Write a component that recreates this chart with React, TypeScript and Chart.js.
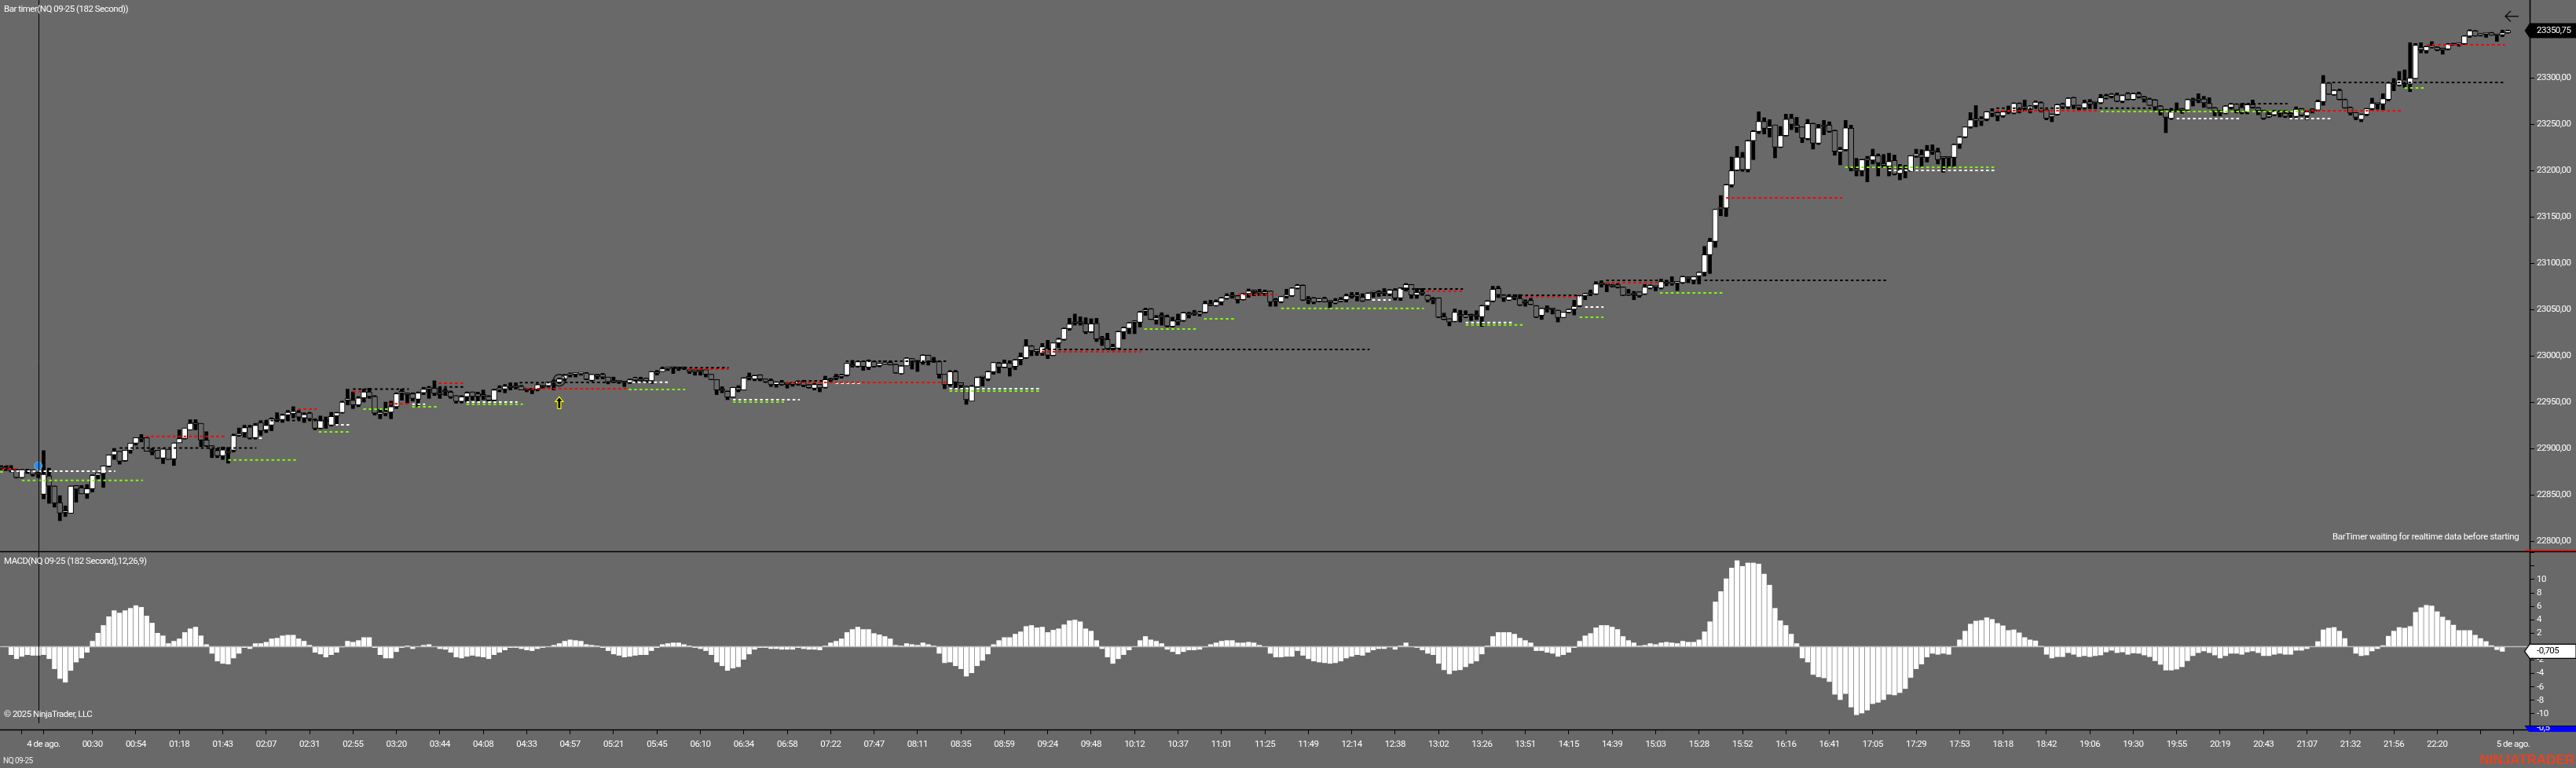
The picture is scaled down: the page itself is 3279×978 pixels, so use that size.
import { useEffect, useRef } from "react";
import { Chart, registerables } from "chart.js";

Chart.register(...registerables);

const opens = [
22880,22879,22878,22877,22868.5,22876,22877,22873,22850.5,22870.3,
22859.3,22841.5,22831,22830,22860,22857.6,22851,22856.5,22871,22873,
22880.7,22893,22897,22886.7,22898,22905.6,22911,22911.6,22897,22898,
22889.5,22899,22888.6,22906,22910.7,22920,22927,22927,22909,22903,
22897.8,22892,22896,22898,22914,22917,22923,22911.6,22928,22920,
22925,22931,22931,22936,22937.6,22939,22933,22938,22931,22921.6,
22930,22925,22935,22938.6,22952,22952,22947,22954.5,22961,22956,
22937,22938,22939,22945,22960,22959,22959,22953,22960,22964,
22965,22959,22962,22960.8,22957,22950.7,22955.7,22961,22959,22957,
22956,22952,22963.4,22964,22966,22967,22967,22964,22963,22963.6,
22967,22967.7,22971,22971.5,22975,22979,22980,22980.6,22981.4,22973.4,
22978,22980,22977,22972,22973,22972,22971,22974,22975,22975.7,
22973,22982,22983,22986,22987,22987,22987,22984.8,22984.8,22984,
22984.8,22980,22974.3,22964,22961.6,22955.4,22965.8,22963,22977,22974.9,
22979.4,22975,22973.5,22969,22971.5,22970,22971,22969.5,22971.5,22968.7,
22965,22969,22965.8,22974,22977,22977.6,22979,22990,22988.7,22994,
22987.6,22993.5,22989.3,22991,22992.7,22990.7,22980.5,22989,22996.9,22993.5,
22992.7,23000.6,22994,22993.5,22980,22969,22982.8,22970.9,22967,22951,
22966.4,22977,22974.9,22982.8,22992,22987.6,22991.8,22988.4,22996,22997.8,
23010.5,23004.6,23002.6,23008.2,23000.3,23013.9,23017.6,23029.4,23036,23035.6,
23034.5,23025.7,23035,23018.8,23017.6,23008,23008.2,23026,23029.5,23036,
23036,23048,23050.6,23038.7,23043,23042,23031.7,23038.7,23037.9,23045,
23046,23045,23047,23055,23054,23058.2,23062,23065,23064.7,23060.5,
23067,23070,23069,23067.5,23069.8,23059.8,23058.2,23064,23064.7,23073,
23076,23061,23062.4,23059,23062,23058.2,23057,23059,23060.4,23064,
23064,23063.3,23060.4,23068,23068,23068,23066.6,23071,23062.4,23073,
23076.8,23065.5,23068,23065.2,23061,23062.4,23042,23040,23037,23044,
23042,23044,23043.5,23042,23054,23059,23072.6,23065.5,23060,23063,
23061.9,23058,23059.6,23054,23043.5,23051,23051,23049,23041.2,23047,
23050,23053.9,23064.7,23067,23066.6,23078,23077,23076.5,23076.6,23074,
23065.5,23066.4,23069,23066.6,23073,23075,23073,23079,23078,23078.5,
23078.8,23085,23081.6,23086,23090,23109,23123.4,23158.5,23159.3,23184.5,
23200.3,23214.4,23201,23232,23242,23253,23245.5,23249,23225.1,23237.6,
23256.2,23248.9,23246.9,23234.2,23250.6,23229.4,23248,23248.9,23243,23220,
23222.3,23245.5,23201.7,23199.7,23211,23211,23215.8,23207.4,23204.5,23210.7,
23196.6,23200,23199.7,23215.8,23217.2,23214,23221,23220,23214.9,23214,
23214,23228.5,23236,23247,23254,23253.5,23255.4,23262,23262.4,23258.9,
23263,23261.9,23272.3,23267,23265.8,23270,23273,23265.3,23258.2,23260.4,
23271.5,23268.6,23278.5,23270.3,23267.5,23274,23273.5,23273,23278.5,23280.2,
23281.6,23274.6,23283,23276.5,23282.8,23279.4,23277,23276,23269.5,23265.8,
23256,23264.7,23266,23265.2,23276,23276,23277,23272.3,23267.5,23264,
23261.6,23268,23271.5,23268,23263,23270.9,23267.5,23264.7,23258,23260,
23262,23261.9,23261,23258.2,23266.7,23259,23265,23265.2,23274.3,23294.3,
23281.6,23286.4,23276.5,23268,23262.4,23255,23260.4,23266.7,23272,23271.7,
23276.5,23293.5,23292,23297.7,23293,23299.2,23333,23329.4,23333,23333,
23332,23331,23337,23336,23336.7,23345,23350.5,23345.8,23347,23348.6,
23346,23346.3,23348.6];

const closes = [
22878,22878,22876,22868.5,22877,22875,22872,22872,22872,22859.3,
22841,22830.2,22831,22859.3,22856,22851,22856.5,22871,22873.4,22881,
22893,22897,22886,22898,22905.6,22911.6,22910,22897,22896,22889.5,
22899.4,22888,22905.9,22910.5,22922,22927,22926,22909,22902.7,22899,
22892,22898.5,22895,22914,22916,22922.5,22911,22925,22919,22925,
22932,22930,22936,22939,22940,22933.7,22936.7,22932,22921.6,22930,
22929,22934.5,22938.6,22950,22953,22947,22954.5,22961,22956,22938,
22939,22938.5,22945,22959,22960,22958,22953.8,22960,22964,22964,
22959.5,22958,22961,22955.5,22950.7,22955.7,22960,22956,22956,22956.5,
22952,22963,22964.5,22967,22965.5,22966,22963,22963,22962.5,22968.7,
22966.5,22971.5,22971,22975,22979,22980.6,22980.6,22981,22974.6,22979.9,
22977.6,22977,22972,22971.5,22972,22971,22974,22974.5,22973,22973,
22982.8,22981,22986,22986,22986.5,22986,22986,22982.8,22982.8,22983,
22980,22974.3,22963,22962.5,22955.4,22965.8,22963,22976,22976,22978.6,
22974.9,22972,22968.7,22971.5,22968.7,22968.7,22969,22972.3,22968,22965.6,
22969,22965.3,22974.3,22973.5,22976,22979,22991.8,22989,22993.5,22988.4,
22994.7,22988.4,22991.8,22992,22990.1,22981.4,22989,22997.5,22993.3,22993,
23000.6,22993.5,22993.5,22980,22968.7,22982.8,22971.5,22968,22952.6,22967,
22976.6,22976.5,22982.8,22992.7,22987.6,22991.8,22986.5,22995.5,22998.9,23010.5,
23005.4,23005.3,23009.6,23000.6,23013.9,23018,23029.4,23034.2,23035,23035.2,
23025.7,23034.5,23018,23018,23007.7,23008,23026,23030.2,23035.6,23036,
23047.2,23049,23039.3,23041,23042,23032,23037.6,23036.5,23046.4,23044,
23045,23047,23056.2,23054.5,23058.2,23062.5,23064.7,23064,23060.5,23067,
23069.8,23069,23067,23069,23058.2,23059,23064,23066,23073,23076,
23060,23060,23057.6,23061.3,23058.2,23058,23059,23060.4,23064.7,23063.8,
23064,23059,23067.5,23069,23067.5,23067,23071,23062.4,23073,23076.8,
23065.5,23068.3,23067,23060,23060,23041.5,23039.3,23036.4,23046.9,23043,
23044,23043,23042.6,23054,23059,23071.7,23066,23062.4,23063.8,23062.5,
23054.8,23057,23055.3,23041.5,23051.1,23050,23050,23041.2,23046.9,23050,
23053.3,23064.7,23067,23066.5,23077.4,23077,23076.6,23074.6,23074,23065.2,
23067,23065.5,23064.7,23074,23076,23074,23080,23078,23079.4,23078.5,
23085.3,23083,23085.3,23090,23109,23123.4,23157.9,23159.6,23184.5,23199.7,
23214.4,23200.8,23232,23242,23253,23245.5,23247.7,23225.1,23237.6,23255.3,
23249.7,23246.3,23235,23250.6,23229.4,23246,23247.5,23242,23220.6,23222.3,
23246,23202.5,23199.7,23211.6,23211,23215.8,23208.2,23205.4,23209.6,23196,
23200.3,23200,23215.8,23218,23214,23221.5,23220,23211.6,23213,23213.5,
23228,23236,23246.9,23254.5,23254,23254.5,23263.3,23262,23258.7,23263.3,
23262.5,23272.3,23265.8,23267,23269.5,23273.7,23264.7,23256.2,23260.4,23270.9,
23268.6,23278,23270.3,23267.5,23273,23271.5,23273,23278.5,23280.2,23282.2,
23274.6,23280.8,23276.5,23282.8,23279.4,23277,23270.3,23268.6,23265.2,23257.3,
23263,23264,23265,23276.5,23275,23275.5,23273,23267.5,23264,23262.4,
23269.5,23271.5,23265.2,23262.4,23270.9,23268,23264.7,23256.2,23260,23263.8,
23261.5,23258.2,23260,23266,23259.6,23263.3,23264.5,23274.3,23294.3,23282.2,
23286.4,23276.5,23267.5,23261.9,23257.3,23260.4,23266.7,23272.3,23271.5,23277.4,
23294.3,23293,23297.7,23293.5,23299.7,23335,23330,23333.6,23334.5,23330,
23330,23336.4,23335,23336,23345,23350.8,23345,23347.7,23347,23345.8,
23345.8,23348.6,23350.75];

const highs = [
22881,22881,22881.5,22877.5,22877.5,22877.6,22877,22874.5,22897.6,22878.7,
22859.5,22849,22838,22859.5,22860,22860,22861,22871.5,22873.4,22881,
22893,22900,22897,22898,22905.6,22911.6,22915,22911.6,22900,22898,
22899.4,22899,22906,22920,22922,22931,22931,22927,22918,22903,
22900,22901.5,22901,22915.5,22922,22925,22925,22927,22930,22930,
22933,22938.6,22937,22941,22945,22941,22938.5,22939,22932,22935,
22934,22939,22939,22951,22964,22961,22956,22964,22965,22957,
22942,22950,22951,22960,22964,22960,22960,22961,22966,22967,
22973,22966,22964.7,22962,22957,22957,22961,22961,22960.8,22963,
22957,22964,22967.7,22969,22970.8,22970.8,22968,22965,22965,22969.6,
22968,22971.6,22974,22976,22980,22981.5,22981.5,22981.5,22982,22980,
22980,22981,22977,22977,22973,22972,22975,22976.9,22976.9,22976,
22983,22984.2,22987.9,22987.6,22987.6,22987.9,22988,22985,22985,22985,
22985,22980,22974.3,22966.7,22962,22966,22967.8,22976.4,22981.4,22979,
22979.6,22975,22975,22972,22973.5,22971,22971.5,22973,22973.5,22969,
22970,22969.2,22978,22975.7,22980,22980,22992,22995,22994,22994,
22995.6,22994,22992,22994.7,22994,22991,22989.5,22998,22997,22995,
23001,23000.7,22998.3,22994,22980,22984,22984.2,22971,22967.3,22968,
22977,22977,22983.4,22993,22993,22995.5,22994.7,22996,23003,23017.5,
23011,23006.8,23013.3,23016.7,23014,23019,23030,23040.4,23045,23042,
23041,23039.9,23040.4,23020.9,23024.3,23012.5,23026.5,23031,23036,23037.9,
23048,23051.4,23051,23043.5,23046.4,23044,23041.6,23045,23047,23047.2,
23049,23048,23059,23059.9,23060.2,23063,23067,23068.4,23065,23067.5,
23072,23071,23071.8,23071,23070,23061.9,23064.2,23071.8,23073.5,23077,
23076.5,23064,23063,23062,23063.3,23059.5,23061.9,23063,23066.6,23068.3,
23068.3,23067,23068,23069.5,23070.3,23072.5,23071.5,23072.5,23073.5,23078,
23077,23072.6,23072.6,23065.5,23063,23062.6,23046,23040,23050.5,23049,
23048.6,23045,23048.6,23054.5,23059.5,23075,23075,23066,23066.1,23066,
23066,23060.4,23061.9,23054.2,23051.5,23054,23051.1,23049.2,23047,23050.5,
23059.9,23065.2,23067.5,23071,23080,23081,23077.4,23077,23077.9,23074.2,
23071.7,23069.5,23069,23077,23076.5,23074.8,23082.8,23081.6,23085.3,23079,
23086,23085.3,23085.5,23090.5,23118,23126.8,23158,23172.9,23185,23214.4,
23226,23219.5,23232.5,23243,23263.3,23256.8,23254.8,23249,23247.4,23260.7,
23260.7,23257.3,23247,23255,23251,23249.7,23254,23252.5,23243.5,23225,
23254,23248.9,23213,23212,23215.2,23222.9,23217.8,23217.2,23218.6,23216.6,
23206.5,23205.4,23216,23222.9,23222.3,23227,23227.7,23224,23215,23215,
23228.5,23236.5,23247,23262.4,23270,23258,23263.6,23266.7,23263,23263.6,
23269.5,23272.9,23272.9,23276,23270,23275,23274,23265.5,23261,23271.5,
23272.7,23278.5,23279,23270.5,23276,23276.5,23273.6,23282,23282.2,23283,
23283.6,23281.5,23284,23283.6,23284.5,23280,23278,23276.5,23270,23266,
23267,23272.9,23267,23277,23278,23282.8,23280,23278.5,23268,23264.7,
23270,23272.5,23272,23272.3,23272,23276,23268,23265,23263.6,23265,
23264.7,23264.7,23263,23268.6,23267,23265,23266.7,23276,23302.5,23295,
23287,23287.8,23277,23268.5,23262.5,23261,23267,23278,23272.3,23282.8,
23295,23299.2,23306.8,23308.5,23337.8,23337,23337.8,23334,23339,23333.5,
23332,23337,23337.3,23337.3,23345.5,23351.8,23351,23348,23347.7,23349,
23346.3,23351.4,23351.5];

const lows = [
22877,22876,22874.5,22868,22868,22873,22870,22868.4,22845.5,22840.7,
22836.6,22822,22826.5,22830,22842,22851,22846,22853,22867,22858,
22880,22888,22883,22886,22894.7,22903.4,22907,22897,22893,22889,
22883.6,22888,22881.6,22906,22910,22920,22920,22902,22902,22890,
22890,22888,22884,22896,22913,22912,22910,22910,22914,22917,
22919,22928.8,22928,22930,22933,22931,22928,22930.6,22920,22921,
22921.6,22924,22925,22938,22947,22943,22945,22950,22954,22936,
22932,22935,22932,22943,22952,22949,22951,22945,22958,22954,
22957,22954,22957,22954,22948.8,22949,22950,22952,22951,22952.6,
22951,22951,22961,22960,22963,22964,22963,22961,22959,22962,
22964.7,22966,22963,22970,22973,22977,22977,22979,22974,22972.6,
22975,22975,22969.6,22970.8,22970,22966.6,22970,22971,22972,22971,
22970,22979.1,22983,22984,22980.8,22984,22985,22980.8,22979,22979,
22977,22974,22958,22960,22952.6,22955,22961,22963,22973.8,22973,
22972.9,22971,22966.8,22966,22968,22965,22967,22968,22966.5,22965,
22963,22961,22965,22972,22974,22975.7,22978,22987.6,22987.6,22984.2,
22985,22987.6,22988,22990.7,22990,22981,22980,22989,22985.6,22983,
22990.7,22989.9,22992.7,22975.7,22964.4,22967,22965,22965,22947.5,22951,
22966,22967.3,22973,22980,22981.4,22987,22978,22985,22990,22997,
23000,23000.3,23000.3,22996.9,23000,23008.8,23016.7,23027.4,23033,23033,
23023.8,23025,23015.3,23011,23006.8,23006,23008,23018,23023.8,23023.8,
23031,23043.5,23039,23034,23033,23031,23031,23033,23037,23040.7,
23043.5,23042.7,23046,23054,23053.5,23054.8,23061,23062,23056.8,23060,
23063,23064.7,23065,23065,23053.4,23053.4,23057,23062,23064,23072,
23059.5,23056,23056,23058,23058,23052,23056,23058,23058,23062,
23059,23058.5,23060,23063,23064,23064.7,23064.7,23060,23059.6,23069.7,
23061.9,23061.9,23065.2,23058,23056,23041,23038.8,23032.2,23036.5,23036.4,
23041,23038,23039,23031.6,23049.3,23058,23062.7,23058.5,23059.5,23060.4,
23054,23053.4,23055,23041,23039.2,23047,23045,23036.4,23041,23046,
23044,23053,23060.4,23064.7,23066,23074,23069,23074,23073,23064.7,
23065,23060.4,23063,23066,23072,23070,23072,23075.4,23076,23070.3,
23078,23078.8,23077.4,23077.4,23086,23088.7,23117,23151,23150.3,23182,
23199.7,23199,23198.3,23211.6,23239.8,23239.3,23236,23213.5,23224.5,23237,
23244,23241,23230,23233,23223,23228,23238.4,23241,23216.4,23206,
23221,23199.4,23194,23194,23187.6,23207,23194,23203,23194,23195,
23189.8,23191.8,23199,23214,23204,23209,23217.2,23207,23198,23203,
23204,23223.7,23235,23245.5,23247,23248.3,23253.5,23258,23253.4,23257.3,
23261,23261,23262,23264,23262,23268,23263,23254.5,23252.5,23259.5,
23267,23267,23266.7,23265,23266,23266.7,23266.7,23272,23277,23278,
23274,23273,23276,23276,23278,23273.7,23270,23265,23259.6,23240.7,
23255,23263,23261.6,23264.7,23269.5,23273,23268,23267,23258.8,23258.8,
23261,23266,23262,23261,23261,23267,23260,23255,23257,23259,
23257.6,23257,23256,23256.8,23258.5,23254.8,23261.9,23264,23270.3,23282,
23281,23276,23267,23259.6,23254.5,23252.5,23259,23265,23266,23265.2,
23275,23285.9,23291,23289.5,23285,23299,23326.8,23326.5,23332,23329,
23325.4,23330,23335,23334,23336,23343.5,23344.8,23345,23343.5,23345.7,
23339.2,23344.3,23348];

const macd = [
null,null,-1.2,-1.8,-1.45,-1.2,-1.3,-1.3,-1.2,-1.8,
-3.3,-4.75,-5.3,-3.55,-2.3,-1.7,-0.85,0.8,2,3.15,
4.45,5.35,5,5.35,5.7,6.1,5.85,4.55,3.5,2,
1.6,0.45,0.8,1.15,2.1,2.65,2.9,1.6,0.3,-1,
-2.15,-2.5,-2.6,-1.7,-1,-0.15,-0.3,0.45,0.45,0.65,
1.15,1.25,1.6,1.7,1.7,1.15,0.8,0.2,-0.85,-1.1,
-1.55,-1.2,-0.85,-0.05,0.8,0.65,0.9,1.35,1.35,-0.15,
-1.2,-1.7,-1.7,-0.75,-0.15,0.1,-0.3,0,0.2,0.3,
0,-0.3,-0.4,-0.85,-1.55,-1.7,-1.45,-1.3,-1.45,-1.55,
-1.8,-1.2,-0.85,-0.5,-0.15,-0.15,-0.3,-0.5,-0.6,-0.3,
-0.15,0,0.2,0.45,0.8,1,0.9,0.8,0.3,0.2,
0.1,-0.15,-0.6,-1.1,-1.3,-1.55,-1.45,-1.3,-1.2,-1.2,
-0.6,-0.15,0.3,0.45,0.55,0.55,0.3,0.1,-0.15,-0.3,
-0.6,-1.2,-2.3,-2.85,-3.55,-3.2,-3,-1.9,-1.1,-0.4,
-0.15,-0.15,-0.3,-0.3,-0.4,-0.4,-0.4,-0.15,-0.3,-0.4,
-0.4,-0.5,0.1,0.55,0.8,1.15,2.1,2.55,2.9,2.55,
2.55,1.95,1.75,1.5,1.15,0.2,0.1,0.45,0.3,0.2,
0.55,0.3,0.1,-1,-2.4,-2.3,-2.85,-3.3,-4.4,-3.9,
-2.85,-2.05,-1.1,0.3,0.9,1.35,1.35,1.85,2.2,3,
3.15,2.8,2.9,2.1,2.45,2.65,3.25,3.85,3.95,3.7,
2.65,2.3,0.9,-0.3,-1.55,-2.5,-1.8,-1.2,-0.5,0,
0.9,1.5,1,0.8,0.45,-0.4,-0.75,-1.1,-0.75,-0.5,
-0.5,-0.4,-0.05,0.3,0.55,0.8,0.9,0.9,0.55,0.55,
0.65,0.55,0.2,0,-1,-1.55,-1.55,-1.45,-1.45,-0.6,
-1.3,-1.8,-2.15,-2.3,-2.4,-2.5,-2.4,-2.15,-1.7,-1.45,
-1.2,-1.3,-0.85,-0.5,-0.3,-0.3,-0.05,-0.4,0.1,0.55,
0,-0.15,-0.5,-1,-1.2,-2.5,-3.45,-4.05,-3.55,-3.45,
-3,-2.5,-2.15,-1.1,0.1,1.5,2.1,2.1,2.1,1.85,
1.25,0.9,0.55,-0.6,-0.6,-0.85,-1,-1.45,-1.2,-0.85,
-0.15,0.8,1.6,1.95,2.8,3.15,3.15,2.9,2.55,1.5,
0.9,0.55,0.1,0.2,0.45,0.3,0.55,0.65,0.55,0.45,
0.8,0.65,0.65,1,2.2,3.7,6.65,8.2,10.1,11.7,
12.8,11.95,12.45,12.45,12.3,10.8,9.15,5.7,3.85,3.15,
1.85,0.45,-1.7,-2.3,-4.15,-4.5,-4.65,-5.2,-7.1,-7.9,
-7,-9,-10.15,-9.9,-9.45,-8.5,-8.3,-7.9,-7.1,-7.2,
-6.85,-6.25,-4.6,-3.3,-2.6,-1.55,-1,-1.15,-1,-1.15,
0,1,2.3,3.35,3.8,3.9,4.3,4.05,3.45,3.1,
2.4,2.5,2.05,1.35,1,0.85,0.05,-1.15,-1.7,-1.5,
-1.5,-0.9,-1.15,-1.5,-1.35,-1.5,-1.35,-1.25,-0.8,-0.55,
-0.9,-0.8,-1.15,-0.95,-1,-1.25,-1.5,-2.1,-2.65,-3.5,
-3.5,-3.35,-3,-2.1,-1.35,-0.9,-0.65,-0.9,-1.25,-1.7,
-1.35,-1,-1,-1.15,-0.8,-0.65,-0.9,-1.35,-1.35,-1.15,
-1,-1.15,-1.15,-0.55,-0.55,-0.3,0,0.75,2.5,2.75,
2.85,2.3,1.2,0,-1,-1.35,-1.25,-0.65,-0.3,0.15,
1.55,2.3,2.85,2.75,3,5.1,5.8,6.15,6.05,5.2,
4.4,3.9,3.2,2.4,2.4,2.4,1.7,1.2,0.75,0.15,
-0.45,-0.705];

const levelStart = [0,0.5,0,2,4,22,26.8,42,47.7,48.8,54.9,61.8,58.7,65,65,66.9,71.7,75.9,75.9,80.8,80.8,85.9,85.9,95.7,96.9,104,116.5,115.8,124,126.8,135,135,144.8,148,153.9,155.8,174.9,174.9,192,191.9,210.8,221.8,228,236,252.8,258.1,262.8,279,280.9,270,270,292,291,295.9,295.9,305.8,314,318,339.9,347.9,367.8,367.8,387,401,413,421.8,424.8,429.7,443,447.1];
const levelEnd = [1.5,3,0.5,21.2,26.3,47.2,41.4,54.5,48.3,60.5,58.3,64.3,64.3,66.6,75.3,71.5,75.3,78.3,80.4,85.3,85.3,95.3,96.3,101.8,115.4,112,123.4,126.2,134.2,134.2,147.3,144.4,174.3,152,158.4,174.3,191.4,191.4,252.3,210.2,220.3,227.3,235.2,262.3,256.2,269.5,269.5,291,291,278.6,280.5,295.4,295.4,305.5,305.5,317.3,347.5,339.4,367.4,367.4,386.3,396.9,424.4,412.6,421.4,429.3,442.4,461.5,446.5,461.5];
const levelPrice = [22881,22878,22874.6,22875.4,22865.5,22900.5,22912.9,22887.6,22911,22930,22942.4,22925.4,22917.8,22961.3,22964,22942.4,22948.1,22947.7,22945,22970.4,22966.3,22950,22947.7,22971,22964.4,22971.2,22971.5,22963.6,22987,22985.6,22952.6,22950,22971.2,22972.9,22970.4,22994.1,22964.4,22961.9,23006.8,23004.3,23028.8,23039.9,23066.1,23051,23060.2,23072,23069.8,23065.2,23063.8,23035.9,23033.3,23052.5,23041.5,23081.3,23078.8,23067.8,23081.3,23170.3,23203.5,23200,23264.4,23267.2,23263.6,23255.9,23272,23255.9,23264.4,23294.9,23289,23335.6];
const levelColor = ["black","red","green","white","green","black","red","green","white","black","red","white","green","red","black","green","red","white","green","red","black","white","green","black","red","black","white","green","black","red","white","green","red","black","white","black","white","green","black","red","green","green","red","green","white","black","red","black","red","white","green","white","green","black","red","green","black","red","green","white","red","black","green","white","black","white","red","black","green","red"];

const tickBars = [4,8,17,25,33,41,49,57,65,73,81,89,97,105,113,121,129,137,145,153,161,169,177,185,193,201,209,217,225,233,241,249,257,265,273,281,289,297,305,313,321,329,337,345,353,361,369,377,385,393,401,409,417,425,433,441,449,457,463];
const tickNames = ["","4 de ago.","00:30","00:54","01:18","01:43","02:07","02:31","02:55","03:20","03:44","04:08","04:33","04:57","05:21","05:45","06:10","06:34","06:58","07:22","07:47","08:11","08:35","08:59","09:24","09:48","10:12","10:37","11:01","11:25","11:49","12:14","12:38","13:02","13:26","13:51","14:15","14:39","15:03","15:28","15:52","16:16","16:41","17:05","17:29","17:53","18:18","18:42","19:06","19:30","19:55","20:19","20:43","21:07","21:32","21:56","22:20","","5 de ago."];

const lastPrice = 23350.75;
const lastMacd = -0.705;
const entryBar = 7;
const entryPrice = 22881.2;
const circleBar = 103;
const circlePrice = 22973.5;
const arrowBar = 103;
const arrowPrice = 22943;

const FONT = '"Roboto",sans-serif';
const FONT_SIZE = 11.5;
const BG = "#696969";
const colorMap: Record<string, string> = { black: "#000000", red: "#ff0000", green: "#7fff00", white: "#ffffff" };

const overlay = {
  id: "overlay",
  beforeDraw(chart: any) {
    const { ctx, width, height } = chart;
    ctx.save();
    ctx.fillStyle = BG;
    ctx.fillRect(0, 0, width, height);
    ctx.restore();
    // narrow the axis type: the reference uses a tall, tightly hinted face
    ctx.letterSpacing = "-0.5px";
  },
  afterDatasetsDraw(chart: any) {
    const { ctx, scales } = chart;
    const x = Math.round(scales.x.getPixelForValue(entryBar)) + 0.5;
    ctx.save();
    ctx.strokeStyle = "#000";
    ctx.lineWidth = 1;
    ctx.beginPath();
    ctx.moveTo(x, 0);
    ctx.lineTo(x, 921);
    ctx.stroke();
    // yellow arrow
    const ax = scales.x.getPixelForValue(arrowBar);
    const ab = scales.price.getPixelForValue(arrowPrice);
    ctx.beginPath();
    ctx.moveTo(ax, ab - 15);
    ctx.lineTo(ax + 5, ab - 9);
    ctx.lineTo(ax + 2, ab - 9);
    ctx.lineTo(ax + 2, ab);
    ctx.lineTo(ax - 2, ab);
    ctx.lineTo(ax - 2, ab - 9);
    ctx.lineTo(ax - 5, ab - 9);
    ctx.closePath();
    ctx.fillStyle = "#000";
    ctx.fill();
    ctx.strokeStyle = "#ffff00";
    ctx.lineWidth = 1.2;
    ctx.stroke();
    ctx.restore();
  },
  afterDraw(chart: any) {
    const { ctx, scales, width } = chart;
    const axisX = 3220.5;
    ctx.save();
    ctx.strokeStyle = "#000";
    ctx.lineWidth = 1.5;
    ctx.beginPath();
    ctx.moveTo(axisX, 0);
    ctx.lineTo(axisX, 929);
    ctx.moveTo(0, 702.5);
    ctx.lineTo(width, 702.5);
    ctx.moveTo(0, 929.5);
    ctx.lineTo(3220, 929.5);
    ctx.stroke();

    const marker = (cy: number, h: number, fill: string, stroke: string | null) => {
      ctx.beginPath();
      ctx.moveTo(3213.5, cy);
      ctx.lineTo(3220, cy - h);
      ctx.lineTo(width, cy - h);
      ctx.lineTo(width, cy + h);
      ctx.lineTo(3220, cy + h);
      ctx.closePath();
      ctx.fillStyle = fill;
      ctx.fill();
      if (stroke) {
        ctx.strokeStyle = stroke;
        ctx.lineWidth = 1.2;
        ctx.stroke();
      }
    };
    ctx.textBaseline = "middle";
    ctx.textAlign = "left";
    ctx.font = FONT_SIZE + "px " + FONT;

    const py = scales.price.getPixelForValue(lastPrice);
    marker(py, 9.5, "#000", null);
    ctx.fillStyle = "#fff";
    ctx.fillText("23350,75", 3229, py);

    const my = scales.macd.getPixelForValue(lastMacd);
    marker(my, 9, "#fff", "#000");
    ctx.fillStyle = "#000";
    ctx.fillText("-0,705", 3229, my);

    // blue marker cut by the axis edge
    ctx.beginPath();
    ctx.moveTo(3214, 925);
    ctx.lineTo(width, 925);
    ctx.lineTo(width, 932);
    ctx.lineTo(3219, 932);
    ctx.closePath();
    ctx.fillStyle = "#0000ff";
    ctx.fill();
    ctx.strokeStyle = "#000";
    ctx.lineWidth = 1;
    ctx.beginPath();
    ctx.moveTo(3214, 924.5);
    ctx.lineTo(width, 924.5);
    ctx.stroke();
    ctx.save();
    ctx.beginPath();
    ctx.rect(3214, 925, width - 3214, 7);
    ctx.clip();
    ctx.fillStyle = "#fff";
    ctx.fillText("-0,5", 3229, 927);
    ctx.restore();

    // red marker cut by the pane edge
    ctx.strokeStyle = "#ff0000";
    ctx.lineWidth = 1.5;
    ctx.beginPath();
    ctx.moveTo(3214, 701);
    ctx.lineTo(width, 701);
    ctx.stroke();

    // back arrow
    ctx.strokeStyle = "#111";
    ctx.lineWidth = 1.5;
    ctx.beginPath();
    ctx.moveTo(3206, 20.7);
    ctx.lineTo(3189, 20.7);
    ctx.moveTo(3196, 14);
    ctx.lineTo(3189, 20.7);
    ctx.lineTo(3196, 27.5);
    ctx.stroke();

    ctx.fillStyle = "#fff";
    ctx.fillText("Bar timer(NQ 09-25 (182 Second))", 5, 12);
    ctx.fillText("MACD(NQ 09-25 (182 Second),12,26,9)", 5, 715.5);
    ctx.fillText("\u00a9 2025 NinjaTrader, LLC", 5, 910);
    ctx.fillStyle = "#eeeeee";
    ctx.font = "10px " + FONT;
    ctx.fillText("NQ 09-25", 4, 969);
    ctx.fillStyle = "#fff";
    ctx.font = FONT_SIZE + "px " + FONT;
    ctx.textAlign = "right";
    ctx.letterSpacing = "-0.3px";
    ctx.fillText("BarTimer waiting for realtime data before starting", 3206.5, 684);
    ctx.letterSpacing = "0px";
    ctx.fillStyle = "#e8431f";
    ctx.font = 'bold 17px "Liberation Sans",sans-serif';
    ctx.fillText("NINJATRADER", 3277, 968);
    ctx.restore();
  },
};

// Axes must not reserve extra room for their outermost labels.
const noPadding = (s: any) => {
  s.paddingLeft = 0;
  s.paddingRight = 0;
  s.paddingTop = 0;
  s.paddingBottom = 0;
};

export default function App() {
  const ref = useRef<HTMLCanvasElement | null>(null);
  useEffect(() => {
    document.body.style.margin = "0";
    document.body.style.background = BG;
    const bars = opens.map((_, i) => i);
    const wicks = bars.map((i) => ({ x: i, y: [lows[i], highs[i]] }));
    const bodies = bars.map((i) => ({ x: i, y: [opens[i], closes[i]] }));
    const bodyFill = bars.map((i) => (closes[i] >= opens[i] ? "#ffffff" : BG));
    const hist = macd
      .map((v, i) => ({ x: i, y: v }))
      .filter((d) => d.y !== null);

    const levels = levelPrice.map((p, k) => ({
      type: "line",
      yAxisID: "price",
      order: 1,
      data: [
        { x: levelStart[k], y: p },
        { x: levelEnd[k], y: p },
      ],
      borderColor: colorMap[levelColor[k]],
      borderWidth: 2,
      borderDash: [3.5, 3.4],
      pointRadius: 0,
      fill: false,
      tension: 0,
    }));

    const chart = new Chart(ref.current as HTMLCanvasElement, {
      type: "bar",
      data: {
        datasets: [
          {
            label: "entry",
            type: "line",
            yAxisID: "price",
            order: 0,
            data: [{ x: entryBar, y: entryPrice }],
            pointRadius: 5,
            pointBackgroundColor: "#1e90ff",
            pointBorderColor: "#a0a0a0",
            pointBorderWidth: 1,
            showLine: false,
          },
          {
            label: "circle",
            type: "line",
            yAxisID: "price",
            order: 0,
            data: [{ x: circleBar, y: circlePrice }],
            pointRadius: 7.5,
            pointBackgroundColor: "rgba(0,0,0,0)",
            pointBorderColor: "#111",
            pointBorderWidth: 1.5,
            showLine: false,
          },
          ...levels,
          {
            label: "zero",
            type: "line",
            yAxisID: "macd",
            order: 2,
            data: [
              { x: 0, y: 0 },
              { x: 466, y: 0 },
            ],
            borderColor: "#bdbdbd",
            borderWidth: 1.5,
            pointRadius: 0,
          },
          {
            label: "MACD",
            yAxisID: "macd",
            order: 3,
            data: hist,
            backgroundColor: "#ffffff",
            barThickness: 5.6,
            grouped: false,
            borderWidth: 0,
          },
          {
            label: "body",
            yAxisID: "price",
            order: 4,
            data: bodies,
            backgroundColor: bodyFill,
            borderColor: "#000",
            borderWidth: 1,
            borderSkipped: false,
            barThickness: 7,
            minBarLength: 2,
            grouped: false,
          },
          {
            label: "wick",
            yAxisID: "price",
            order: 5,
            data: wicks,
            backgroundColor: "#000",
            borderWidth: 0,
            barThickness: 4,
            grouped: false,
          },
        ] as any,
      },
      options: {
        responsive: false,
        animation: false,
        devicePixelRatio: 1,
        events: [],
        layout: { padding: 0, autoPadding: false },
        plugins: { legend: { display: false }, tooltip: { enabled: false }, title: { display: false } },
        scales: {
          x: {
            type: "linear",
            position: "bottom",
            min: -0.036,
            max: 466.03,
            offset: false,
            afterBuildTicks: (s: any) => {
              s.ticks = tickBars.map((value) => ({ value }));
            },
            afterFit: (s: any) => {
              s.height = 49;
              noPadding(s);
            },
            grid: { drawOnChartArea: false, drawTicks: true, tickLength: 6, tickColor: "#000", offset: false },
            border: { display: false },
            ticks: {
              autoSkip: false,
              maxRotation: 0,
              color: "#ffffff",
              padding: 6,
              font: { family: FONT, size: FONT_SIZE },
              callback: (_v: any, i: number) => tickNames[i],
            },
          },
          price: {
            type: "linear",
            position: "right",
            stack: "panes",
            stackWeight: 702,
            weight: 0,
            min: 22789,
            max: 23383.9,
            afterFit: (s: any) => {
              s.width = 59;
              noPadding(s);
            },
            grid: { drawOnChartArea: false, tickLength: 6, tickColor: "#000" },
            border: { display: false },
            ticks: {
              stepSize: 50,
              includeBounds: false,
              autoSkip: false,
              color: "#ffffff",
              padding: 3,
              font: { family: FONT, size: FONT_SIZE },
              callback: (v: any) => (v <= 23300 ? Number(v).toFixed(2).replace(".", ",") : ""),
            },
          },
          macd: {
            type: "linear",
            position: "right",
            stack: "panes",
            stackWeight: 227,
            weight: 1,
            min: -12.35,
            max: 14.2,
            afterFit: (s: any) => {
              s.width = 59;
              noPadding(s);
            },
            grid: { drawOnChartArea: false, tickLength: 6, tickColor: "#000" },
            border: { display: false },
            ticks: {
              stepSize: 2,
              includeBounds: false,
              autoSkip: false,
              color: "#ffffff",
              padding: 3,
              font: { family: FONT, size: FONT_SIZE },
              callback: (v: any) => (Math.abs(v) <= 10 && v !== 0 ? String(v) : ""),
            },
          },
        },
      } as any,
      plugins: [overlay],
    });
    return () => chart.destroy();
  }, []);

  return (
    <div style={{ position: "absolute", left: 0, top: 0, width: 3279, height: 978, overflow: "hidden" }}>
      <canvas ref={ref} width={3279} height={978} style={{ display: "block" }} />
    </div>
  );
}
